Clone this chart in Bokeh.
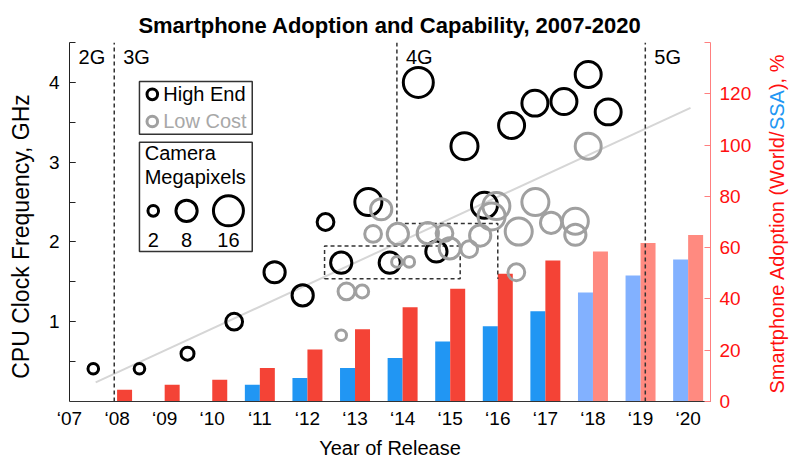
import numpy as np
from bokeh.plotting import figure
from bokeh.layouts import row
from bokeh.models import Range1d, LinearAxis, FixedTicker, Label
from bokeh.core.properties import value
from bokeh.embed import file_html
from bokeh.resources import INLINE

FONT = "Liberation Sans"

# ---------------- data ----------------
years = [2007, 2008, 2009, 2010, 2011, 2012, 2013, 2014, 2015, 2016, 2017, 2018, 2019, 2020]
year_labels = ["\u201807", "\u201808", "\u201809", "\u201810", "\u201811", "\u201812", "\u201813",
               "\u201814", "\u201815", "\u201816", "\u201817", "\u201818", "\u201819", "\u201820"]

world_years = [2008, 2009, 2010, 2011, 2012, 2013, 2014, 2015, 2016, 2017, 2018, 2019, 2020]
world_pct = [4.6, 6.5, 8.5, 13.1, 20.3, 28.2, 36.8, 44.0, 49.8, 55.0, 58.5, 61.8, 64.9]
ssa_years = [2011, 2012, 2013, 2014, 2015, 2016, 2017, 2018, 2019, 2020]
ssa_pct = [6.5, 9.2, 13.1, 17.0, 23.4, 29.3, 35.2, 42.5, 49.1, 55.4]
first_projected_year = 2018

high_year = [2007.5, 2008.47, 2009.48, 2010.46, 2011.31, 2011.9, 2012.38, 2012.71, 2013.28, 2013.73,
             2014.33, 2014.71, 2015.3, 2015.72, 2016.29, 2016.78, 2017.39, 2017.9, 2018.32]
high_ghz = [0.41, 0.41, 0.60, 1.00, 1.62, 1.33, 2.25, 1.74, 2.50, 1.74,
            4.00, 1.88, 3.20, 2.46, 3.46, 3.74, 3.76, 4.10, 3.63]
high_mp = [2, 2, 3, 5, 8, 8, 5, 8, 13, 8,
           16, 8, 13, 12, 12, 12, 12, 12, 12]

low_year = [2012.71, 2012.82, 2013.15, 2013.38, 2013.55, 2013.88, 2013.9, 2014.14, 2014.53, 2014.88,
            2014.99, 2015.4, 2015.63, 2015.87, 2015.97, 2016.39, 2016.44, 2016.79, 2017.12, 2017.63,
            2017.63, 2017.9]
low_ghz = [0.83, 1.38, 1.38, 2.10, 2.41, 1.75, 2.10, 1.75, 2.11, 2.11,
           1.92, 1.91, 2.08, 2.32, 2.45, 1.62, 2.13, 2.50, 2.24, 2.26,
           2.09, 3.20]
low_mp = [2, 5, 3, 5, 8, 2, 8, 2, 8, 5,
          8, 5, 8, 13, 13, 5, 13, 13, 8, 12,
          8, 12]

trend_year = [2007.55, 2020.05]
trend_ghz = [0.24, 3.68]

gen_names = ["2G", "3G", "4G", "5G"]
gen_starts = [2007.94, 2013.88, 2019.1]

legend_mp = [2, 8, 16]

H = 466
TOP = 42
BOTTOM = 65

# ---------------- main figure ----------------
p = figure(width=720, height=H, output_backend="svg", toolbar_location=None,
           x_range=Range1d(2007, 2020.47), y_range=Range1d(0, 4.5),
           min_border_left=29, min_border_right=50, min_border_top=TOP, min_border_bottom=BOTTOM)
p.extra_y_ranges = {"adopt": Range1d(0, 140)}
p.xgrid.visible = False
p.ygrid.visible = False
p.outline_line_color = None
p.background_fill_color = "white"

p.title.text = "Smartphone Adoption and Capability, 2007-2020"
p.title.align = "center"
p.title.text_font = FONT
p.title.text_font_size = "22px"
p.title.text_font_style = "bold"
p.title.text_color = "black"
p.title.standoff = 9

# left axis
ya = p.yaxis[0]
ya.ticker = FixedTicker(ticks=[1, 2, 3, 4], minor_ticks=[0.5, 1, 1.5, 2, 2.5, 3, 3.5, 4, 4.5])
ya.major_tick_in = 6
ya.major_tick_out = 0
ya.minor_tick_in = 6
ya.minor_tick_out = 0
ya.axis_line_color = "#222222"
ya.major_tick_line_color = "#222222"
ya.minor_tick_line_color = "#222222"
ya.major_label_text_font = FONT
ya.major_label_text_font_size = "19px"
ya.major_label_text_color = "black"
ya.major_label_standoff = 10

# bottom axis
xa = p.xaxis[0]
xa.ticker = FixedTicker(ticks=years)
xa.major_label_overrides = {y: l for y, l in zip(years, year_labels)}
xa.major_tick_in = 0
xa.major_tick_out = 0
xa.minor_tick_line_color = None
xa.axis_line_color = "#333333"
xa.major_label_text_font = FONT
xa.major_label_text_font_size = "19px"
xa.major_label_text_color = "black"
xa.major_label_standoff = 6
xa.axis_label = "Year of Release"
xa.axis_label_text_font = FONT
xa.axis_label_text_font_size = "20px"
xa.axis_label_text_font_style = "normal"
xa.axis_label_text_color = "black"
xa.axis_label_standoff = 5

# right axis
ra = LinearAxis(y_range_name="adopt",
                ticker=FixedTicker(ticks=[0, 20, 40, 60, 80, 100, 120], minor_ticks=[140]))
ra.major_tick_in = 6
ra.major_tick_out = 0
ra.minor_tick_in = 6
ra.minor_tick_out = 0
ra.axis_line_color = "#FF7F7F"
ra.major_tick_line_color = "#FF7F7F"
ra.minor_tick_line_color = "#FF7F7F"
ra.major_label_text_font = FONT
ra.major_label_text_font_size = "19px"
ra.major_label_text_color = "#FF1010"
ra.major_label_standoff = 9
p.add_layout(ra, "right")

# ---------------- bars ----------------
bar_w = 0.315
wy = np.array(world_years, dtype=float)
sy = np.array(ssa_years, dtype=float)
world_colors = ["#FF8A80" if y >= first_projected_year else "#F44336" for y in world_years]
ssa_colors = ["#82B1FF" if y >= first_projected_year else "#2196F3" for y in ssa_years]
p.vbar(x=sy - bar_w / 2, top=ssa_pct, width=bar_w, bottom=0, y_range_name="adopt",
       fill_color=ssa_colors, line_color=None)
p.vbar(x=wy + bar_w / 2, top=world_pct, width=bar_w, bottom=0, y_range_name="adopt",
       fill_color=world_colors, line_color=None)

# trend line
p.line(trend_year, trend_ghz, line_color="#D6D6D6", line_width=2)

# generation dividers and highlight boxes
dash_kw = dict(line_color="#333333", line_width=1.5, line_dash="4 3")
p.line([gen_starts[0], gen_starts[0]], [0, 4.5], **dash_kw)
p.line([gen_starts[1], gen_starts[1], 2016.0, 2016.0], [4.5, 2.23, 2.23, 1.54], **dash_kw)
p.line([gen_starts[2], gen_starts[2]], [0, 4.5], **dash_kw)
p.line([2012.36, 2015.21, 2015.21, 2012.36, 2012.36], [1.54, 1.54, 1.95, 1.95, 1.54], **dash_kw)

gen_y = 4.32
p.add_layout(Label(x=gen_starts[0], y=gen_y, x_offset=-9, text=gen_names[0], text_align="right",
                   text_baseline="middle", text_font=FONT, text_font_size="20px", text_color="black"))
for name, xs in zip(gen_names[1:], gen_starts):
    p.add_layout(Label(x=xs, y=gen_y, x_offset=9, text=name, text_align="left",
                       text_baseline="middle", text_font=FONT, text_font_size="20px", text_color="black"))

# ---------------- circles ----------------
def msize(mp):
    return 7.5 * np.sqrt(np.array(mp, dtype=float))

p.scatter(high_year, high_ghz, size=msize(high_mp), marker="circle", fill_color=None,
          line_color="black", line_width=3)
p.scatter(low_year, low_ghz, size=msize(low_mp), marker="circle", fill_color=None,
          line_color="#A0A0A0", line_width=3)

# ---------------- legends ----------------
box_kw = dict(fill_color=None, line_color="#333333", line_width=1.5)
p.quad(left=[2008.47], right=[2010.84], bottom=[3.35], top=[4.01], **box_kw)
p.quad(left=[2008.47], right=[2010.84], bottom=[1.88], top=[3.25], **box_kw)

p.scatter([2008.74], [3.85], size=msize([2]), marker="circle", fill_color=None,
          line_color="black", line_width=3)
p.scatter([2008.74], [3.51], size=msize([2]), marker="circle", fill_color=None,
          line_color="#A0A0A0", line_width=3)
lab_kw = dict(text_baseline="middle", text_font=FONT, text_font_size="20px")
p.add_layout(Label(x=2008.97, y=3.85, text="High End", text_color="black", **lab_kw))
p.add_layout(Label(x=2008.97, y=3.51, text="Low Cost", text_color="#A8A8A8", **lab_kw))
p.add_layout(Label(x=2008.58, y=3.11, text="Camera", text_color="black", **lab_kw))
p.add_layout(Label(x=2008.58, y=2.81, text="Megapixels", text_color="black", **lab_kw))
leg_x = [2008.76, 2009.46, 2010.34]
p.scatter(leg_x, [2.39] * 3, size=msize(legend_mp), marker="circle", fill_color=None,
          line_color="black", line_width=3)
for lx, mp in zip(leg_x, legend_mp):
    p.add_layout(Label(x=lx, y=2.03, text=str(mp), text_align="center", text_color="black", **lab_kw))


def side_panel(width, x0):
    # strip whose frame uses page pixels (y measured upward from the page bottom)
    f = figure(width=width, height=H, output_backend="svg", toolbar_location=None,
               x_axis_type=None, y_axis_type=None,
               x_range=Range1d(x0, x0 + width), y_range=Range1d(BOTTOM, H - TOP),
               min_border_left=0, min_border_right=0,
               min_border_top=TOP, min_border_bottom=BOTTOM)
    f.xgrid.visible = False
    f.ygrid.visible = False
    f.outline_line_color = None
    return f

# ---------------- left axis title (own strip) ----------------
pl = side_panel(40, 0)
pl.text(x=[20.5], y=[H - 236], text=["CPU Clock Frequency, GHz"], angle=np.pi / 2,
        text_align="center", text_baseline="middle", text_font=value(FONT),
        text_font_size="23px", text_color="black")

# ---------------- right axis title (own strip, two colours) ----------------
pr = side_panel(40, 760)
parts = ["Smartphone Adoption (World/", "SSA", "), %"]
part_colors = ["#FF1010", "#2196F3", "#FF1010"]
# Arial / Liberation Sans advance widths (1/1000 em)
W = {'S': 667, 'm': 833, 'a': 556, 'r': 333, 't': 278, 'p': 556, 'h': 556, 'o': 556, 'n': 556,
     'e': 556, ' ': 278, 'A': 667, 'd': 556, 'i': 222, '(': 333, 'W': 944, 'l': 222, '/': 278,
     ')': 333, ',': 278, '%': 889}
fs = 20
ys = []
pos = H - 393.0
for txt in parts:
    ys.append(pos)
    pos += sum(W[c] for c in txt) / 1000 * fs
pr.text(x=[776] * 3, y=ys, text=parts, angle=np.pi / 2, text_align="left",
        text_baseline="alphabetic", text_font=value(FONT), text_font_size=f"{fs}px",
        text_color=part_colors)

layout = row(pl, p, pr)
open("out.html", "w").write(file_html(layout, INLINE))
